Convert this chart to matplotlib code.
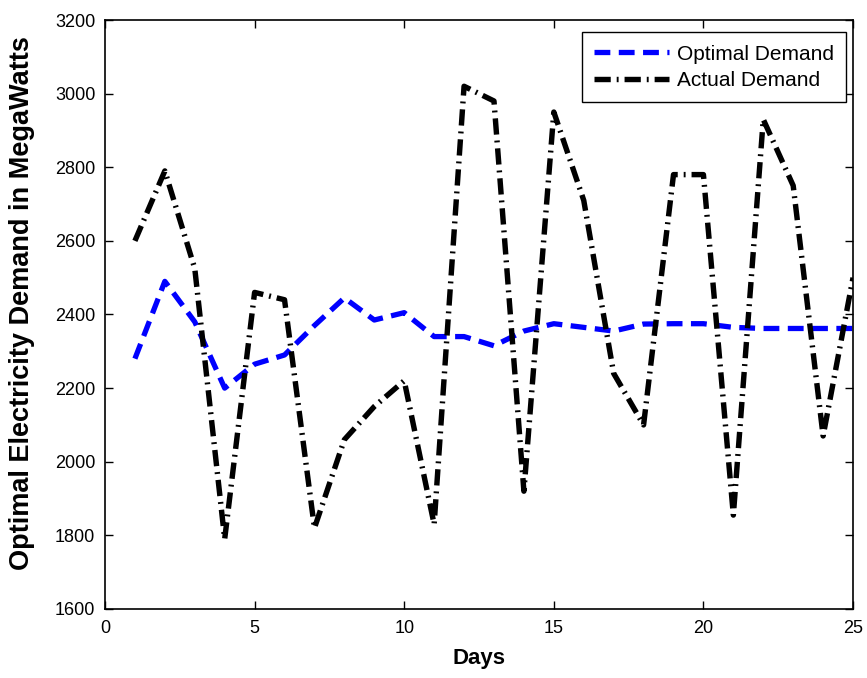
import matplotlib
matplotlib.use("Agg")
import matplotlib.pyplot as plt

days = list(range(1, 26))
optimal_demand = [2280, 2490, 2380, 2200, 2265, 2290, 2370, 2445, 2385, 2405,
                  2340, 2340, 2315, 2355, 2375, 2365, 2355, 2374, 2375, 2375,
                  2365, 2362, 2362, 2362, 2362]
actual_demand = [2600, 2790, 2525, 1790, 2460, 2440, 1820, 2060, 2150, 2220,
                 1830, 3020, 2980, 1920, 2950, 2710, 2240, 2100, 2780, 2780,
                 1855, 2930, 2750, 2070, 2500]
xticks = [0, 5, 10, 15, 20, 25]
yticks = [1600, 1800, 2000, 2200, 2400, 2600, 2800, 3000, 3200]

plt.rcParams['font.family'] = ['Liberation Sans', 'DejaVu Sans']

fig = plt.figure(figsize=(8.67, 6.78), dpi=100)
ax = fig.add_axes([0.1211, 0.1018, 0.8628, 0.8687])

ax.plot(days, optimal_demand, color='#0000ff', linewidth=3.8,
        linestyle=(0, (3.0, 1.6)), label='Optimal Demand')
ax.plot(days, actual_demand, color='black', linewidth=3.9,
        linestyle=(0, (3.0, 1.1, 0.35, 1.1)), label='Actual Demand')

ax.set_xlim(0, 25)
ax.set_ylim(1600, 3200)
ax.set_xticks(xticks)
ax.set_yticks(yticks)
ax.tick_params(direction='in', top=True, right=True, length=6, width=1,
               labelsize=13)
ax.tick_params(axis='x', pad=8)
ax.tick_params(axis='y', pad=7)
for sp in ax.spines.values():
    sp.set_linewidth(1.2)

ax.set_xlabel('Days', fontsize=16, fontweight='bold', va='top')
ax.xaxis.set_label_coords(0.5, -0.066)
ax.set_ylabel('Optimal Electricity Demand in MegaWatts', fontsize=19.5,
              fontweight='bold')
ax.yaxis.set_label_coords(-0.094, 0.52)

leg = ax.legend(loc='upper right', bbox_to_anchor=(0.9906, 0.9796),
                fontsize=15, frameon=True, fancybox=False,
                edgecolor='black', framealpha=1, handlelength=3.6,
                borderaxespad=0.0, borderpad=0.6, labelspacing=0.35,
                handletextpad=0.35)
leg.get_frame().set_linewidth(1.0)

fig.savefig('out.png', dpi=100)
